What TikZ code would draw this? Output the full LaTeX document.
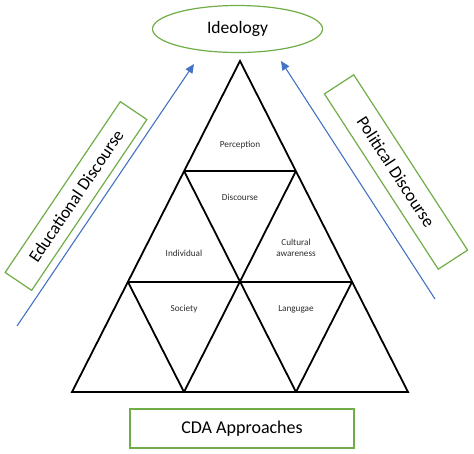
\documentclass[tikz,border=0pt]{standalone}
\usepackage{fontspec}
\setmainfont{Carlito}
\usetikzlibrary{arrows.meta,shapes.geometric}
\definecolor{boxgreen}{RGB}{112,173,71}
\definecolor{arrowblue}{RGB}{68,114,196}
\definecolor{labelgray}{RGB}{45,45,45}
\tikzset{
  tri/.style={draw=black,line width=1.8pt,line join=miter},
  gbox/.style={draw=boxgreen,line width=1.2pt,rectangle,inner sep=0pt},
  barrow/.style={draw=arrowblue,line width=1.1pt,-{Triangle[length=9pt,width=8pt]}},
  lab/.style={font=\fontsize{9.2}{11}\selectfont,text=labelgray,align=center}
}
\begin{document}
\begin{tikzpicture}[x=1pt,y=-1pt]
\useasboundingbox (0,0) rectangle (474,453);
% triangle vertices
\coordinate (A) at (240,61);
\coordinate (L1) at (184,171);
\coordinate (R1) at (296,171);
\coordinate (L2) at (128,282);
\coordinate (M2) at (240,282);
\coordinate (R2) at (352,282);
\coordinate (B0) at (72,392);
\coordinate (B1) at (184,392);
\coordinate (B2) at (296,392);
\coordinate (B3) at (408,392);
\draw[tri] (A) -- (B0) -- (B3) -- cycle;
\draw[tri] (L1) -- (R1);
\draw[tri] (L2) -- (R2);
\draw[tri] (L1) -- (B2);
\draw[tri] (R1) -- (B1);
\draw[tri] (L2) -- (B1);
\draw[tri] (R2) -- (B2);
% labels
\node[lab] (perc) at (240,145) {Perception};
\node[lab] (disc) at (240,197) {Discourse};
\node[lab] (indiv) at (184,253) {Individual};
\node[lab] (cult) at (296,248) {Cultural\\awareness};
\node[lab] (soc) at (184,309) {Society};
\node[lab] (lang) at (296,309) {Langugae};
% ideology
\node[ellipse,draw=boxgreen,line width=1.2pt,minimum width=170pt,minimum height=47pt,inner sep=0pt,font=\fontsize{17.5}{20}\selectfont] (ideo) at (237.5,29) {Ideology};
% side boxes
\node[gbox,minimum width=206pt,minimum height=32pt,rotate=56,font=\fontsize{17.5}{20}\selectfont] (edu) at (76,196) {Educational Discourse};
\node[gbox,minimum width=209pt,minimum height=35pt,rotate=-57,font=\fontsize{17.5}{20}\selectfont] (pol) at (396,172) {Political Discourse};
% bottom box
\node[gbox,minimum width=224pt,minimum height=39pt,font=\fontsize{18}{20}\selectfont] (cda) at (242,428.5) {CDA Approaches};
% arrows
\coordinate (ea) at (17,326);
\coordinate (eb) at (194,64);
\coordinate (pa) at (435,299);
\coordinate (pb) at (281,61);
\draw[barrow] (ea) -- (eb);
\draw[barrow] (pa) -- (pb);
\end{tikzpicture}
\end{document}
